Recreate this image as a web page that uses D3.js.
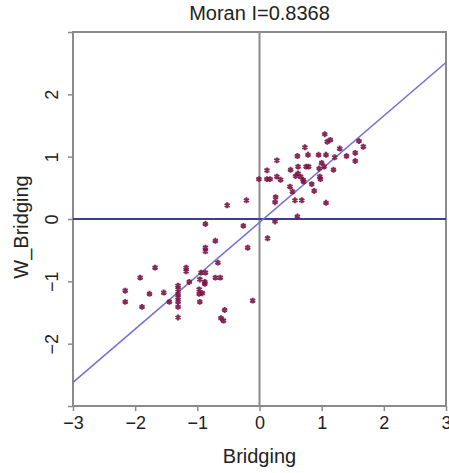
<!DOCTYPE html>
<html>
<head>
<meta charset="utf-8">
<script src="https://cdn.jsdelivr.net/npm/d3@7"></script>
<style>
  body { margin: 0; background: #fff; }
  text { font-family: "Liberation Sans", Arial, sans-serif; fill: #222; }
</style>
</head>
<body>
<svg id="chart" width="449" height="473"></svg>
<script>
'use strict';

// values
var title = "Moran I=0.8368";
var xLabel = "Bridging";
var yLabel = "W_Bridging";
var lineSlope = 0.855;
var lineIntercept = -0.055;
var ticks = [-3, -2, -1, 0, 1, 2, 3];
var yTickLabels = [-2, -1, 0, 1, 2];
var bridging = [1.05, 1.09, 1.14, 0.73, 1.29, 1.60, 1.67, 1.54, 1.54, 1.40, 1.21, 1.07, 0.95, 0.78, 0.61,
	0.28, 0.75, 0.79, 0.62, 1.00, 1.04, 1.19, 0.96, 0.50, 0.12, 0.62, 0.66, 0.58, 0.70, 0.71, 0.97, 0.98,
	0.28, 0.34, -0.01, 0.12, 0.17, 0.84, 0.88, 0.49, 0.53, 0.26, 0.25, 0.57, 0.68, 1.07, 0.61, -0.21, -0.52,
	0.25, 0.13, -0.87, -0.26, -0.71, -0.19, -0.87, -0.87, -0.67, -1.68, -1.18, -1.18, -1.92, -0.94, -0.87,
	-0.71, -0.63, -0.96, -0.88, -0.88, -1.13, -1.31, -1.31, -0.97, -0.92, -0.97, -2.16, -1.77, -1.54, -1.31,
	-1.31, -1.45, -2.16, -1.31, -0.96, -0.11, -1.89, -1.31, -1.31, -0.56, -0.62, -0.58];
var wBridging = [1.36, 1.24, 1.27, 1.15, 1.13, 1.25, 1.16, 1.06, 0.93, 1.01, 0.99, 1.03, 1.03, 1.03, 1.01,
	0.94, 0.84, 0.84, 0.84, 0.90, 0.84, 0.79, 0.81, 0.79, 0.78, 0.73, 0.68, 0.69, 0.63, 0.60, 0.68, 0.64,
	0.68, 0.63, 0.64, 0.64, 0.64, 0.56, 0.45, 0.52, 0.44, 0.35, 0.27, 0.30, 0.30, 0.26, 0.04, 0.30, 0.22,
	-0.04, -0.31, -0.08, -0.11, -0.35, -0.46, -0.46, -0.52, -0.70, -0.78, -0.78, -0.84, -0.94, -0.86, -0.86,
	-0.94, -0.94, -0.97, -1.01, -1.04, -1.01, -1.07, -1.13, -1.13, -1.19, -1.20, -1.15, -1.20, -1.18, -1.20,
	-1.26, -1.33, -1.33, -1.33, -1.33, -1.31, -1.41, -1.41, -1.58, -1.46, -1.59, -1.63];

var svg = d3.select('#chart');
var x = d3.scaleLinear().domain([-3, 3]).range([73, 446]);
var y = d3.scaleLinear().domain([-3, 3]).range([406, 32]);
var minus = function (v) { return String(v).replace('-', '\u2212'); };

// frame
svg.append('rect')
	.attr('x', x(-3)).attr('y', y(3))
	.attr('width', x(3) - x(-3)).attr('height', y(-3) - y(3))
	.attr('fill', 'none').attr('stroke', '#8a8a8a').attr('stroke-width', 2);

// axes
var xAxis = svg.append('g')
	.attr('transform', 'translate(0,' + y(-3) + ')')
	.call(d3.axisBottom(x).tickValues(ticks).tickSize(5).tickPadding(5).tickFormat(minus));
var yAxis = svg.append('g')
	.attr('transform', 'translate(' + x(-3) + ',0)')
	.call(d3.axisLeft(y).tickValues(ticks).tickSize(5).tickPadding(6)
		.tickFormat(function (v) { return yTickLabels.indexOf(v) < 0 ? '' : minus(v); }));
svg.selectAll('.domain').remove();
svg.selectAll('.tick line').attr('stroke', '#8a8a8a').attr('stroke-width', 1.5);
xAxis.selectAll('text').attr('font-size', 18).attr('fill', '#222');
yAxis.selectAll('text')
	.attr('font-size', 18).attr('fill', '#222')
	.attr('text-anchor', 'middle')
	.attr('x', null).attr('dy', null)
	.attr('transform', 'translate(-15,0) rotate(-90)');

// zero lines
svg.append('line')
	.attr('x1', x(0)).attr('x2', x(0)).attr('y1', y(3)).attr('y2', y(-3))
	.attr('stroke', '#8c8c8c').attr('stroke-width', 2);
svg.append('line')
	.attr('x1', x(-3)).attr('x2', x(3)).attr('y1', y(0)).attr('y2', y(0))
	.attr('stroke', '#3a3f8f').attr('stroke-width', 2);

// regression line
svg.append('line')
	.attr('x1', x(-3)).attr('y1', y(-3 * lineSlope + lineIntercept))
	.attr('x2', x(3)).attr('y2', y(3 * lineSlope + lineIntercept))
	.attr('stroke', '#7070d8').attr('stroke-width', 1.5);

// points
var pts = bridging.map(function (b, i) { return [b, wBridging[i]]; });
var star = d3.symbol().type(d3.symbolAsterisk).size(24);
svg.append('g').selectAll('path')
	.data(pts)
	.join('path')
	.attr('transform', function (d) { return 'translate(' + x(d[0]) + ',' + y(d[1]) + ')'; })
	.attr('d', star)
	.attr('fill', 'none')
	.attr('stroke', '#7a1446')
	.attr('stroke-width', 2)
	.attr('stroke-opacity', 0.9);

// labels
svg.append('text')
	.attr('x', (x(-3) + x(3)) / 2).attr('y', 20)
	.attr('text-anchor', 'middle').attr('font-size', 20)
	.text(title);
svg.append('text')
	.attr('x', (x(-3) + x(3)) / 2).attr('y', 463)
	.attr('text-anchor', 'middle').attr('font-size', 20)
	.text(xLabel);
svg.append('text')
	.attr('transform', 'translate(28,' + (y(0) + 8) + ') rotate(-90)')
	.attr('text-anchor', 'middle').attr('font-size', 20)
	.text(yLabel);
</script>
</body>
</html>
